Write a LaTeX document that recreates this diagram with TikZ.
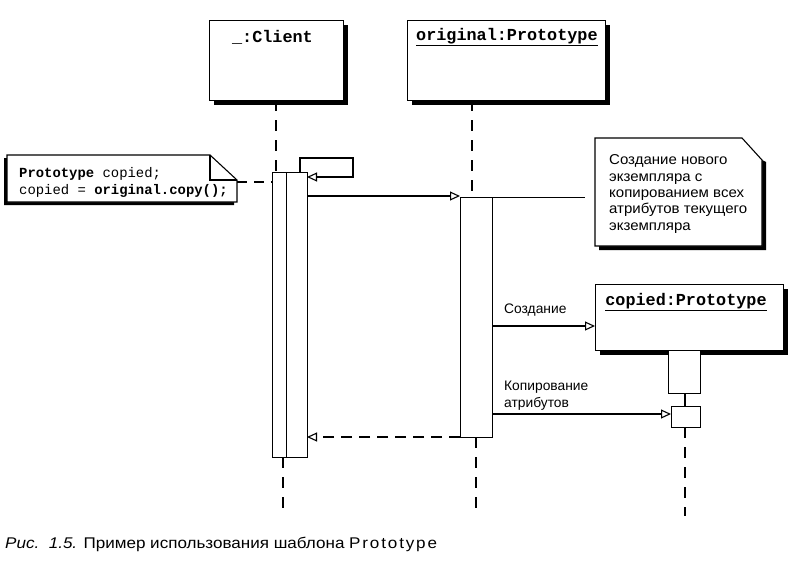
\documentclass[tikz,border=0pt]{standalone}
\usepackage{fontspec}
\setmainfont{Liberation Sans}
\newfontfamily\monof{Liberation Mono}
\newfontfamily\widef[FakeStretch=1.05]{Liberation Sans}
\newfontfamily\capf[FakeStretch=1.1]{Liberation Sans}
\usetikzlibrary{arrows.meta,shadows}
\tikzset{
  ln/.style={line width=1.1pt},
  objbox/.style={draw, line width=1.1pt, fill=white, inner sep=0pt, anchor=north west,
    drop shadow={shadow xshift=4pt, shadow yshift=-4pt, fill=black, opacity=1}},
  actbox/.style={draw, line width=1.1pt, fill=white, inner sep=0pt, anchor=north west},
  lifeline/.style={line width=1.3pt, dash pattern=on 11pt off 9pt},
  msg/.style={line width=1.1pt, -{Triangle[open, length=10pt, width=9pt, line width=1.1pt]}},
  retmsg/.style={msg, dash pattern=on 11pt off 7pt},
  ttl/.style={font=\monof\bfseries\fontsize{16.8}{18}\selectfont, inner sep=0pt},
  lbl/.style={font=\fontsize{13.8}{17}\selectfont, inner sep=0pt, align=left, anchor=west},
}
\begin{document}
\begin{tikzpicture}[x=1pt,y=-1pt]
\useasboundingbox (0,0) rectangle (796,562);

% object boxes
\node[objbox, minimum width=134pt, minimum height=80pt] (client) at (209,20) {};
\node[ttl, anchor=east] (clientt) at (313,37) {\_:Client};
\node[objbox, minimum width=198pt, minimum height=80pt] (orig) at (407,20) {};
\node[ttl, anchor=west] (origt) at (416,37) {\underline{original:Prototype}};
\node[objbox, minimum width=188pt, minimum height=66pt] (copied) at (595,284) {};
\node[ttl, anchor=center] (copiedt) at (686,302) {\underline{copied:Prototype}};

% activations
\node[actbox, minimum width=35pt, minimum height=285pt] (cact) at (272,172) {};
\node[actbox, minimum width=21pt, minimum height=285pt] (cinner) at (286,172) {};
\node[actbox, minimum width=32pt, minimum height=240pt] (oact) at (460,197) {};
\node[actbox, minimum width=32pt, minimum height=43pt] (pact) at (668,350) {};
\node[actbox, minimum width=29pt, minimum height=21pt] (pact2) at (671,406) {};

% lifelines
\coordinate (cl1) at (276,100); \coordinate (cl2) at (276,172);
\coordinate (cl3) at (283,457); \coordinate (cl4) at (283,516);
\coordinate (ol1) at (472,100); \coordinate (ol2) at (472,197);
\coordinate (ol3) at (476,437); \coordinate (ol4) at (476,516);
\coordinate (pl1) at (685,427); \coordinate (pl2) at (685,516);
\draw[lifeline] (cl1) -- (cl2);
\draw[lifeline] (cl3) -- (cl4);
\draw[lifeline] (ol1) -- (ol2);
\draw[lifeline] (ol3) -- (ol4);
\draw[lifeline] (pl1) -- (pl2);
\draw[ln] (pact.south -| pl1) -- (pact2.north -| pl1);

% self message
\coordinate (s0) at (300,172); \coordinate (s1) at (300,158);
\coordinate (s2) at (353,158); \coordinate (s3) at (353,177);
\coordinate (s4) at (307,177);
\draw[msg] (s0) -- (s1) -- (s2) -- (s3) -- (s4);

% messages
\coordinate (m1a) at (307,196); \coordinate (m1b) at (460,196);
\draw[msg] (m1a) -- (m1b);
\coordinate (m2a) at (492,326);
\draw[msg] (m2a) -- (copied.west |- m2a);
\node[lbl] (m2l) at (504,310) {Создание};
\coordinate (m3a) at (492,414);
\draw[msg] (m3a) -- (pact2.west |- m3a);
\node[lbl] (m3l) at (504,396) {Копирование\\атрибутов};
\coordinate (m4a) at (460,437); \coordinate (m4b) at (307,437);
\draw[retmsg] (m4a) -- (m4b);

% left note
\fill (4,158) -- (4,205) -- (234,205) -- (234,202) -- (7,202) -- (7,158) -- cycle;
\draw[ln, fill=white] (7,155) -- (210,155) -- (237,180) -- (237,202) -- (7,202) -- cycle;
\draw[ln] (210,155) -- (210,180) -- (237,180);
\node[font=\monof\fontsize{13.9}{17}\selectfont, inner sep=0pt, align=left, anchor=west] (lnote) at (19,182)
  {\textbf{Prototype} copied;\\copied = \textbf{original.copy();}};
\coordinate (lc) at (237,182);
\draw[ln, dash pattern=on 10pt off 7pt] (lc) -- (lc -| cact.west);

% right note
\fill (599,246) -- (599,250) -- (766,250) -- (766,162) -- (762,160) -- (762,246) -- cycle;
\draw[ln, fill=white] (595,138) -- (742,138) -- (762,160) -- (762,246) -- (595,246) -- cycle;
\node[font=\widef\fontsize{14.3}{16.3}\selectfont, inner sep=0pt, align=left, anchor=west] (rnote) at (609,194)
  {Создание нового\\экземпляра с\\копированием всех\\атрибутов текущего\\экземпляра};
\coordinate (rc) at (585,197);
\draw[line width=0.8pt] (oact.north east) -- (rc);

% caption
\node[font=\capf\fontsize{15.5}{17}\selectfont, inner sep=0pt, anchor=west] (cap) at (5,544)
  {\textit{Рис.\ \ 1.5.} Пример использования шаблона {\addfontfeature{LetterSpace=12}Prototype}};
\end{tikzpicture}
\end{document}
